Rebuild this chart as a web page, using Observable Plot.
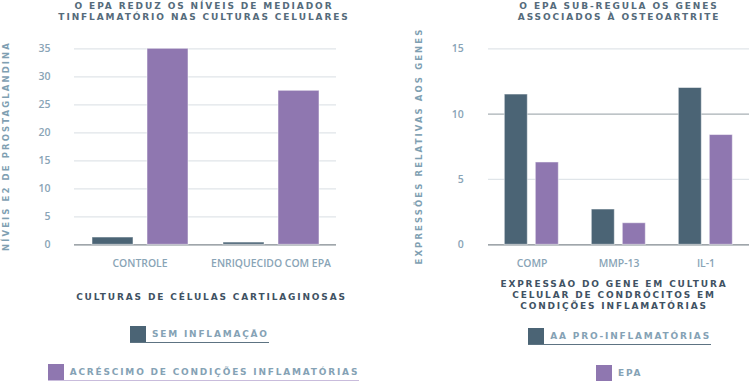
<!DOCTYPE html>
<html>
<head>
<meta charset="utf-8">
<script src="https://cdn.jsdelivr.net/npm/d3@7"></script>
<script src="https://cdn.jsdelivr.net/npm/@observablehq/plot@0.6"></script>
<style>
  html, body { margin: 0; padding: 0; background: #fff; }
  #wrap { position: relative; width: 750px; height: 381px; overflow: hidden; font-family: "DejaVu Sans", sans-serif; }
  .abs { position: absolute; }
  .title { font-size: 9px; font-weight: 700; letter-spacing: 1.9px; line-height: 11.3px; color: #556b7b; text-align: center; white-space: nowrap; }
  .ylab { font-size: 8.5px; font-weight: 700; letter-spacing: 2.1px; line-height: 12px; height: 12px; width: 300px; color: #7f9fb2; text-align: center; transform: rotate(-90deg); transform-origin: 50% 50%; white-space: nowrap; }
  .xtitle { font-size: 9px; font-weight: 700; letter-spacing: 1.85px; line-height: 11.2px; color: #3f5263; text-align: center; white-space: nowrap; }
  .leg { display: flex; align-items: center; white-space: nowrap; }
  .leg .sw { width: 16px; height: 16px; margin-right: 6px; }
  .leg .tx { font-size: 9px; font-weight: 700; letter-spacing: 1.8px; color: #85a2b5; line-height: 16px; }
  .plot svg text { font-weight: 600; fill: #89a4b6; }
</style>
</head>
<body>
<div id="wrap">
  <div class="abs title" style="left:0; width:408px; top:0.5px;">O EPA REDUZ OS NÍVEIS DE MEDIADOR<br>TINFLAMATÓRIO NAS CULTURAS CELULARES</div>
  <div class="abs title" style="left:419px; width:400px; top:0.5px;">O EPA SUB-REGULA OS GENES<br>ASSOCIADOS À OSTEOARTRITE</div>
  <div class="abs ylab" style="left:-144px; top:140px;">NÍVEIS E2 DE PROSTAGLANDINA</div>
  <div class="abs ylab" style="left:269px; top:139.5px;">EXPRESSÕES RELATIVAS AOS GENES</div>
  <div id="leftPlot" class="abs plot" style="left:0; top:25px;"></div>
  <div id="rightPlot" class="abs plot" style="left:400px; top:25px;"></div>
  <div class="abs xtitle" style="left:11.5px; width:400px; top:291.6px;">CULTURAS DE CÉLULAS CARTILAGINOSAS</div>
  <div class="abs xtitle" style="left:414px; width:400px; top:278.9px;">EXPRESSÃO DO GENE EM CULTURA<br>CELULAR DE CONDRÓCITOS EM<br>CONDIÇÕES INFLAMATÓRIAS</div>
  <div id="legL1" class="abs leg" style="left:130px; top:326px;"></div>
  <div id="legL2" class="abs leg" style="left:47.7px; top:364px;"></div>
  <div id="legR1" class="abs leg" style="left:528.3px; top:327.7px;"></div>
  <div id="legR2" class="abs leg" style="left:596px; top:365px;"></div>
</div>
<script>
// ---- data ----
const leftCategories = ["CONTROLE", "ENRIQUECIDO COM EPA"];
const leftSeries = ["SEM INFLAMAÇÃO", "ACRÉSCIMO DE CONDIÇÕES INFLAMATÓRIAS"];
const leftSemInflamacao = [1.3, 0.4];
const leftAcrescimo = [35, 27.5];
const leftTicks = [0, 5, 10, 15, 20, 25, 30, 35];

const rightCategories = ["COMP", "MMP-13", "IL-1"];
const rightSeries = ["AA PRO-INFLAMATÓRIAS", "EPA"];
const rightAA = [11.5, 2.7, 12.0];
const rightEPA = [6.3, 1.65, 8.4];
const rightTicks = [0, 5, 10, 15];

const DARK = "#4b6475";
const PURPLE = "#8f77b0";
const GRID = "#e0e5e9";
const BASE = "#80898f";

const leftData = leftCategories.flatMap((c, i) => [
  {cat: c, series: leftSeries[0], value: leftSemInflamacao[i]},
  {cat: c, series: leftSeries[1], value: leftAcrescimo[i]}
]);
const rightData = rightCategories.flatMap((c, i) => [
  {cat: c, series: rightSeries[0], value: rightAA[i]},
  {cat: c, series: rightSeries[1], value: rightEPA[i]}
]);

const left = Plot.plot({
  width: 370, height: 250,
  marginLeft: 73, marginRight: 34, marginTop: 23.3, marginBottom: 30.7,
  style: {fontFamily: "Open Sans", background: "transparent"},
  fx: {domain: leftCategories, padding: 0, label: null},
  x: {domain: leftSeries, paddingInner: 0.255, paddingOuter: 0.31, axis: null},
  y: {domain: [0, 35], label: null},
  color: {domain: leftSeries, range: [DARK, PURPLE]},
  marks: [
    Plot.ruleY(leftTicks.filter(t => t > 0), {stroke: GRID, strokeWidth: 1.2}),
    Plot.ruleY([0], {stroke: BASE, strokeWidth: 1.2}),
    Plot.barY(leftData, {fx: "cat", x: "series", y: "value", fill: "series", stroke: "#ffffff", strokeOpacity: 0.5, strokeWidth: 1}),
    Plot.axisY({ticks: leftTicks, tickSize: 0, tickPadding: 24, fontSize: 10.5, label: null}),
    Plot.axisFx({anchor: "bottom", tickSize: 0, tickPadding: 15, fontSize: 10.4, label: null})
  ]
});
document.getElementById("leftPlot").appendChild(left);

const right = Plot.plot({
  width: 350, height: 250,
  marginLeft: 87.7, marginRight: 0, marginTop: 23.3, marginBottom: 30.7,
  style: {fontFamily: "Open Sans", background: "transparent"},
  fx: {domain: rightCategories, padding: 0, label: null},
  x: {domain: rightSeries, paddingInner: 0.25, paddingOuter: 0.51, axis: null},
  y: {domain: [0, 15], label: null},
  color: {domain: rightSeries, range: [DARK, PURPLE]},
  marks: [
    Plot.ruleY([5, 15], {stroke: GRID, strokeWidth: 1.2}),
    Plot.ruleY([10], {stroke: "#a8b0b5", strokeWidth: 1.2}),
    Plot.ruleY([0], {stroke: BASE, strokeWidth: 1.2}),
    Plot.barY(rightData, {fx: "cat", x: "series", y: "value", fill: "series", stroke: "#ffffff", strokeOpacity: 0.5, strokeWidth: 1}),
    Plot.axisY({ticks: rightTicks, tickSize: 0, tickPadding: 24.7, fontSize: 10.5, label: null}),
    Plot.axisFx({anchor: "bottom", tickSize: 0, tickPadding: 15, fontSize: 10.4, label: null})
  ]
});
document.getElementById("rightPlot").appendChild(right);

function legend(id, label, color, underline) {
  const el = document.getElementById(id);
  el.style.borderBottom = `1.5px solid ${underline}`;
  const sw = document.createElement("div");
  sw.className = "sw"; sw.style.background = color;
  const tx = document.createElement("div");
  tx.className = "tx"; tx.textContent = label;
  el.appendChild(sw); el.appendChild(tx);
}
legend("legL1", leftSeries[0], DARK, "#5d7382");
legend("legL2", leftSeries[1], PURPLE, "#c9bcdc");
legend("legR1", rightSeries[0], DARK, "#5d7382");
legend("legR2", rightSeries[1], PURPLE, "#c9bcdc");
</script>
</body>
</html>
